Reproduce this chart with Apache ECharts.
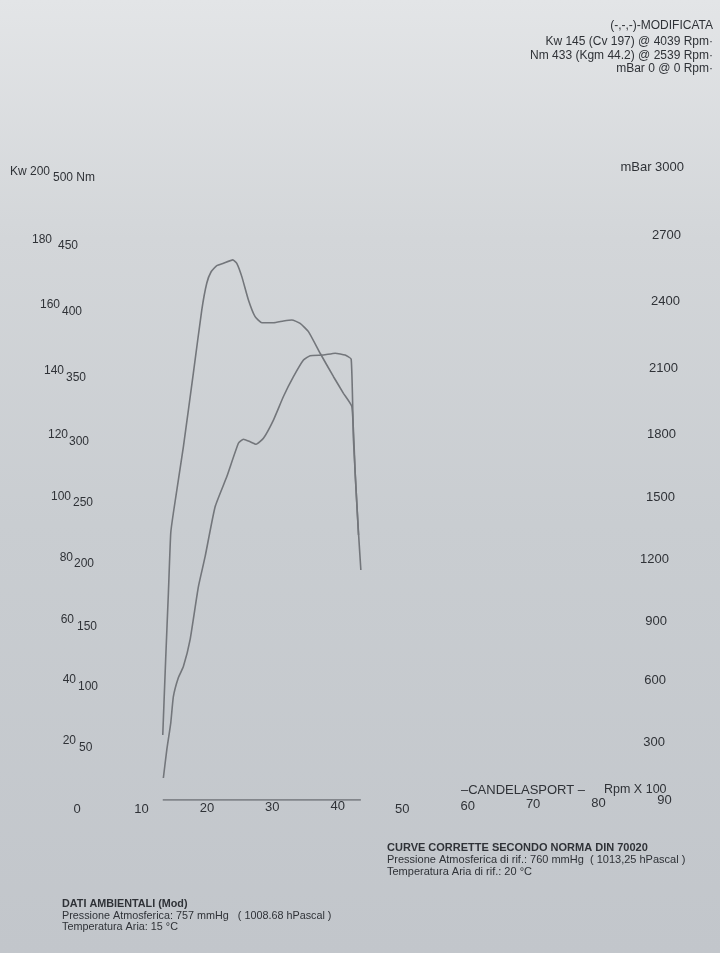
<!DOCTYPE html>
<html>
<head>
<meta charset="utf-8">
<script src="https://cdn.jsdelivr.net/npm/echarts@6/dist/echarts.min.js"></script>
<style>
html,body{margin:0;padding:0;background:#cfd2d5;}
#chart{width:720px;height:953px;}
</style>
</head>
<body>
<div id="chart"></div>
<script>
// ---- data read from the dyno sheet (rpm x 100) ----
const torqueRpm = [13.41,13.85,14.27,14.63,15.03,16.56,18.09,19.37,20.14,20.80,21.67,22.68,24.11,24.72,25.49,26.50,27.52,28.55,30.32,31.85,33.13,34.40,35.67,37.46,39.50,41.02,42.31,42.81,43.32,43.68];
const torqueNm  = [51.8,111.5,164.8,212.6,228.5,281.1,340.0,390.1,411.6,420.6,425.4,427.3,430.0,427.3,416.7,398.1,384.8,380.0,380.0,381.4,382.2,379.5,372.9,355.7,337.0,323.8,313.1,260.4,212.6,183.1];
const powerRpm  = [13.50,14.02,14.63,15.03,15.80,16.56,17.58,18.85,19.88,21.41,23.20,24.97,25.73,26.76,27.68,28.79,30.32,31.85,33.38,34.91,35.93,37.96,39.76,41.28,42.20,42.55,43.32];
const powerKw   = [7.0,15.9,24.5,32.9,39.0,42.5,51.0,67.9,77.5,93.4,103.0,113.6,114.9,114.1,113.3,115.2,121.0,128.5,134.8,140.1,141.5,141.7,142.3,141.7,140.4,114.7,84.4];

const rpmTicks  = [0,10,20,30,40,50,60,70,80,90];
const kwTicks   = [20,40,60,80,100,120,140,160,180,200];
const nmTicks   = [50,100,150,200,250,300,350,400,450,500];
const mbarTicks = [300,600,900,1200,1500,1800,2100,2400,2700,3000];

const headerLines = ['(-,-,-)-MODIFICATA','Kw 145 (Cv 197) @ 4039 Rpm\u00b7','Nm 433 (Kgm 44.2) @ 2539 Rpm\u00b7','mBar 0 @ 0 Rpm\u00b7'];
const normLines = ['CURVE CORRETTE SECONDO NORMA DIN 70020','Pressione Atmosferica di rif.: 760 mmHg  ( 1013,25 hPascal )','Temperatura Aria di rif.: 20 \u00b0C'];
const ambientLines = ['DATI AMBIENTALI (Mod)','Pressione Atmosferica: 757 mmHg   ( 1008.68 hPascal )','Temperatura Aria: 15 \u00b0C'];
const brand = '\u2013CANDELASPORT \u2013';
const rpmName = 'Rpm X 100';

// ---- label placement (photo perspective) ----
const TXT = '#2f3237';
const kwPad  = [[0,26],[10,24],[14,16],[20,12],[22,8],[22,5],[18,3],[16,2],[10,0],[6,0]]; // 200..20
const nmPad  = [[12,0],[22,5],[28,9],[34,13],[36,16],[34,20],[30,21],[30,24],[24,25],[20,26]]; // 500..50
const mbPad  = [[-10,0],[2,3],[8,4],[17,6],[22,8],[22,9],[22,15],[19,17],[13,18],[10,19]]; // 3000..300
const xPad   = [[9,4],[9,2],[8,2],[7,2],[6,2],[9,0],[6,0],[4,0],[3,0],[0,1]];

const kwRich = {}, nmRich = {}, mbRich = {}, xRich = {};
kwTicks.forEach((v,i)=>{const p=kwPad[kwTicks.length-1-i]; kwRich['k'+v]={padding:[p[0],p[1],0,0],fontSize:12,color:TXT};});
nmTicks.forEach((v,i)=>{const p=nmPad[nmTicks.length-1-i]; nmRich['n'+v]={padding:[p[0],0,0,p[1]],fontSize:12,color:TXT};});
mbarTicks.forEach((v,i)=>{const p=mbPad[mbarTicks.length-1-i]; mbRich['m'+v]={padding:p[0]>=0?[p[0],p[1],0,0]:[0,p[1],-p[0],0],fontSize:13,color:TXT};});
rpmTicks.forEach((v,i)=>{const p=xPad[i]; xRich['x'+v]={padding:[p[0],0,0,p[1]],fontSize:13,color:TXT};});

const FONT = '"Liberation Sans", Arial, sans-serif';
const chart = echarts.init(document.getElementById('chart'), null, {renderer:'canvas'});

const baseline = [[Math.min(...torqueRpm,...powerRpm),0],[Math.max(...torqueRpm,...powerRpm),0]];

const graphics = [];
const hy = [26.5,43,56.5,70];
headerLines.forEach((t,i)=>graphics.push({type:'text',right:7,top:hy[i]-7,style:{text:t,font:'12px '+FONT,fill:TXT}}));
normLines.forEach((t,i)=>graphics.push({type:'text',left:387,top:842+i*12.4,style:{text:t,font:(i===0?'bold ':'')+'11px '+FONT,fill:TXT}}));
ambientLines.forEach((t,i)=>graphics.push({type:'text',left:62,top:899+i*11.5,style:{text:t,font:(i===0?'bold ':'')+'10.8px '+FONT,fill:TXT}}));
graphics.push({type:'text',left:461,top:784,style:{text:brand,font:'13px '+FONT,fill:TXT}});
graphics.push({type:'text',left:604,top:783,style:{text:rpmName,font:'12.5px '+FONT,fill:TXT}});

chart.setOption({
  animation:false,
  backgroundColor:{type:'linear',x:0,y:0,x2:0,y2:1,colorStops:[
    {offset:0,color:'#e3e5e7'},{offset:0.25,color:'#d3d6d9'},{offset:0.55,color:'#c9cdd1'},{offset:1,color:'#c2c6cb'}]},
  textStyle:{fontFamily:FONT},
  grid:{left:75,right:56,top:172,bottom:153,containLabel:false,outerBoundsMode:'none'},
  xAxis:{type:'value',min:0,max:90,interval:10,
    axisLine:{show:false},axisTick:{show:false},splitLine:{show:false},
    axisLabel:{margin:-6,formatter:v=>'{x'+v+'|'+v+'}',rich:xRich}},
  yAxis:[
    {type:'value',min:0,max:200,interval:20,position:'left',
      axisLine:{show:false},axisTick:{show:false},splitLine:{show:false},
      axisLabel:{align:'right',margin:-1,showMinLabel:false,
        formatter:v=>v===0?'':'{k'+v+'|'+(v===200?'Kw '+v:v)+'}',rich:kwRich}},
    {type:'value',min:0,max:500,interval:50,position:'left',
      axisLine:{show:false},axisTick:{show:false},splitLine:{show:false},
      axisLabel:{align:'left',margin:22,showMinLabel:false,
        formatter:v=>v===0?'':'{n'+v+'|'+(v===500?v+' Nm':v)+'}',rich:nmRich}},
    {type:'value',min:0,max:3000,interval:300,position:'right',
      axisLine:{show:false},axisTick:{show:false},splitLine:{show:false},
      axisLabel:{align:'right',margin:20,showMinLabel:false,
        formatter:v=>v===0?'':'{m'+v+'|'+(v===3000?'mBar '+v:v)+'}',rich:mbRich}}
  ],
  series:[
    {name:'Nm',type:'line',yAxisIndex:1,symbol:'none',smooth:0.15,
      data:torqueRpm.map((r,i)=>[r,torqueNm[i]]),lineStyle:{color:'#73767b',width:1.6}},
    {name:'Kw',type:'line',yAxisIndex:0,symbol:'none',smooth:0.15,
      data:powerRpm.map((r,i)=>[r,powerKw[i]]),lineStyle:{color:'#73767b',width:1.6}},
    {name:'base',type:'line',yAxisIndex:0,symbol:'none',
      data:baseline,lineStyle:{color:'#6c6f74',width:1.6}}
  ],
  graphic:graphics
});
</script>
</body>
</html>
